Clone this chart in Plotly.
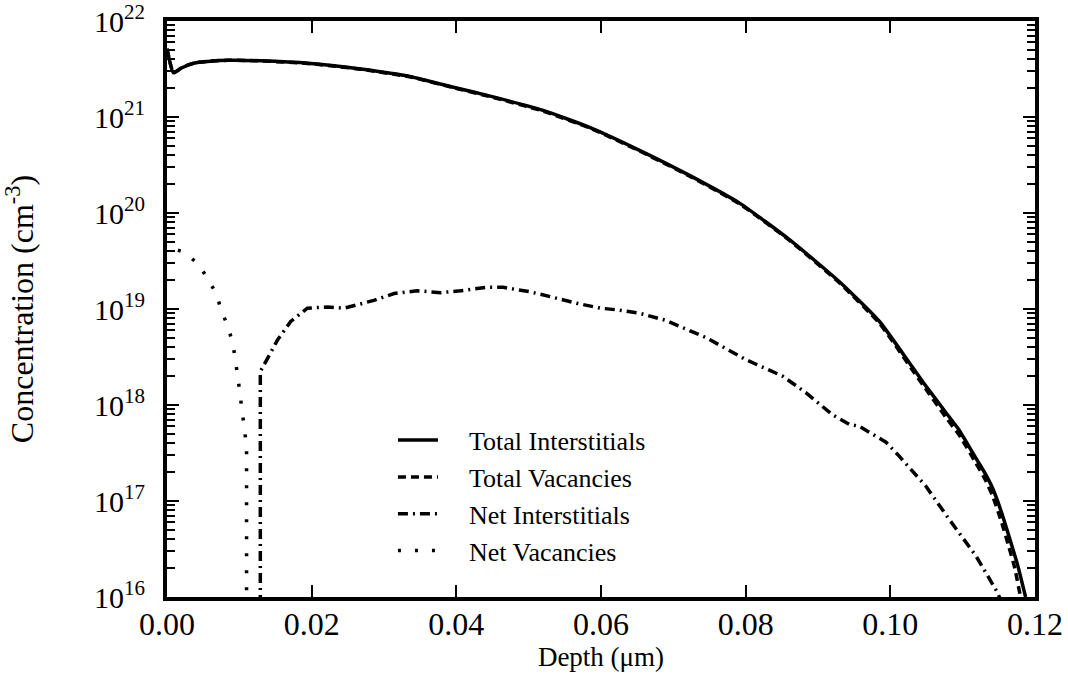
import plotly.graph_objects as go

# Depth (um) and concentrations (cm^-3)
depth_total_i = [0.0, 0.0009, 0.002, 0.0037, 0.006, 0.0084, 0.013, 0.0199, 0.0268, 0.0337,
                 0.0396, 0.0451, 0.052, 0.0585, 0.0654, 0.0723, 0.0792, 0.0861, 0.093, 0.0985,
                 0.103, 0.1045, 0.1077, 0.1095, 0.1118, 0.1130, 0.1141, 0.1153, 0.1164, 0.1176, 0.1187]
total_interstitials = [5.13e21, 2.88e21, 3.24e21, 3.63e21, 3.80e21, 3.89e21, 3.85e21, 3.61e21, 3.16e21, 2.63e21,
                       2.04e21, 1.62e21, 1.17e21, 7.76e20, 4.47e20, 2.45e20, 1.26e20, 5.25e19, 1.91e19, 7.41e18,
                       2.51e18, 1.74e18, 8.3e17, 5.5e17, 2.82e17, 2.0e17, 1.38e17, 7.9e16, 4.3e16, 2.15e16, 1.0e16]

depth_total_v = [0.0, 0.0009, 0.002, 0.0037, 0.006, 0.0084, 0.013, 0.0199, 0.0268, 0.0337,
                 0.0396, 0.0451, 0.052, 0.0585, 0.0654, 0.0723, 0.0792, 0.0861, 0.093, 0.0985,
                 0.103, 0.1045, 0.1077, 0.1095, 0.1118, 0.1130, 0.1141, 0.1153, 0.1164, 0.1172, 0.1180]
total_vacancies = [5.15e21, 2.90e21, 3.26e21, 3.65e21, 3.82e21, 3.90e21, 3.84e21, 3.59e21, 3.14e21, 2.61e21,
                   2.02e21, 1.60e21, 1.15e21, 7.65e20, 4.40e20, 2.41e20, 1.24e20, 5.15e19, 1.86e19, 7.10e18,
                   2.34e18, 1.62e18, 7.4e17, 4.9e17, 2.5e17, 1.74e17, 1.15e17, 6.3e16, 3.3e16, 2.0e16, 1.0e16]

depth_net_i = [0.0129, 0.0129, 0.0132, 0.0153, 0.0171, 0.0194, 0.0222, 0.0245, 0.0286, 0.0314,
               0.0346, 0.0378, 0.0406, 0.0442, 0.0465, 0.0502, 0.0534, 0.0566, 0.0599, 0.0622,
               0.0654, 0.069, 0.0746, 0.0801, 0.0851, 0.0884, 0.092, 0.0943, 0.0957, 0.098,
               0.0994, 0.1012, 0.1049, 0.1081, 0.1118, 0.1148, 0.1156]
net_interstitials = [1e15, 2.24e18, 2.45e18, 4.79e18, 7.41e18, 1.02e19, 1.05e19, 1.02e19, 1.23e19, 1.45e19,
                     1.55e19, 1.48e19, 1.55e19, 1.68e19, 1.68e19, 1.51e19, 1.32e19, 1.15e19, 1.02e19, 9.8e18,
                     9.0e18, 7.6e18, 5.0e18, 2.95e18, 2.0e18, 1.33e18, 7.9e17, 6.3e17, 6.0e17, 4.7e17,
                     4.1e17, 2.95e17, 1.43e17, 6.5e16, 2.7e16, 1.12e16, 8.0e15]

depth_net_v = [0.0015, 0.0024, 0.0043, 0.0056, 0.0068, 0.0075, 0.0084, 0.0091, 0.0098, 0.0104, 0.0110, 0.0110]
net_vacancies = [4.1e19, 3.9e19, 2.95e19, 2.09e19, 1.45e19, 9.8e18, 6.6e18, 4.4e18, 1.95e18, 8.3e17, 3.7e17, 1e15]

x_ticks = [0.0, 0.02, 0.04, 0.06, 0.08, 0.10, 0.12]
x_tick_text = ["0.00", "0.02", "0.04", "0.06", "0.08", "0.10", "0.12"]
y_exponents = [16, 17, 18, 19, 20, 21, 22]
y_ticks = [10.0 ** k for k in y_exponents]
y_tick_text = [f"10<sup>{k}</sup>" for k in y_exponents]
y_minor = [m * 10.0 ** k for k in y_exponents[:-1] for m in range(2, 10)]

FONT = "Liberation Serif"
PAD = "\u00a0" * 4

fig = go.Figure()
fig.add_trace(go.Scatter(x=depth_total_i, y=total_interstitials, mode="lines",
                         name=PAD + "Total Interstitials",
                         line=dict(color="black", width=3.5, shape="spline", smoothing=0.5)))
fig.add_trace(go.Scatter(x=depth_total_v, y=total_vacancies, mode="lines",
                         name=PAD + "Total Vacancies",
                         line=dict(color="black", width=3.5, dash="8px,5px", shape="spline", smoothing=0.5)))
fig.add_trace(go.Scatter(x=depth_net_i, y=net_interstitials, mode="lines",
                         name=PAD + "Net Interstitials",
                         line=dict(color="black", width=3.5, dash="10px,5px,2px,5px")))
fig.add_trace(go.Scatter(x=depth_net_v, y=net_vacancies, mode="lines",
                         name=PAD + "Net Vacancies",
                         line=dict(color="black", width=3.5, dash="3px,14px")))

axis_common = dict(
    showline=True, linewidth=4, linecolor="black", mirror="ticks",
    ticks="inside", ticklen=12, tickwidth=1.5, tickcolor="black",
    showgrid=False, zeroline=False, automargin=False, ticklabeloverflow="allow",
)

fig.update_layout(
    width=1068, height=687,
    margin=dict(l=167, r=33, t=21, b=90),
    paper_bgcolor="white", plot_bgcolor="white",
    font=dict(family=FONT, color="black"),
    showlegend=True,
    legend=dict(x=0.2603, y=0.313, xanchor="left", yanchor="top",
                bgcolor="rgba(0,0,0,0)", font=dict(family=FONT, size=26),
                traceorder="normal", itemwidth=40),
    xaxis=dict(range=[0, 0.12], tickvals=x_ticks, ticktext=x_tick_text,
               ticklabelstandoff=-4,
               tickfont=dict(family=FONT, size=32, color="black"),
               title=dict(text="Depth (μm)", font=dict(family=FONT, size=27), standoff=6),
               **axis_common),
    yaxis=dict(type="log", range=[16, 22], tickvals=y_ticks, ticktext=y_tick_text,
               ticklabelstandoff=12,
               tickfont=dict(family=FONT, size=30, color="black"),
               title=dict(text="Concentration (cm<sup>-3</sup>)", font=dict(family=FONT, size=32),
                          standoff=54),
               minor=dict(tickvals=y_minor, ticks="inside", ticklen=8, tickwidth=1.5,
                          tickcolor="black", showgrid=False),
               **axis_common),
)

fig.write_html("out.html")
